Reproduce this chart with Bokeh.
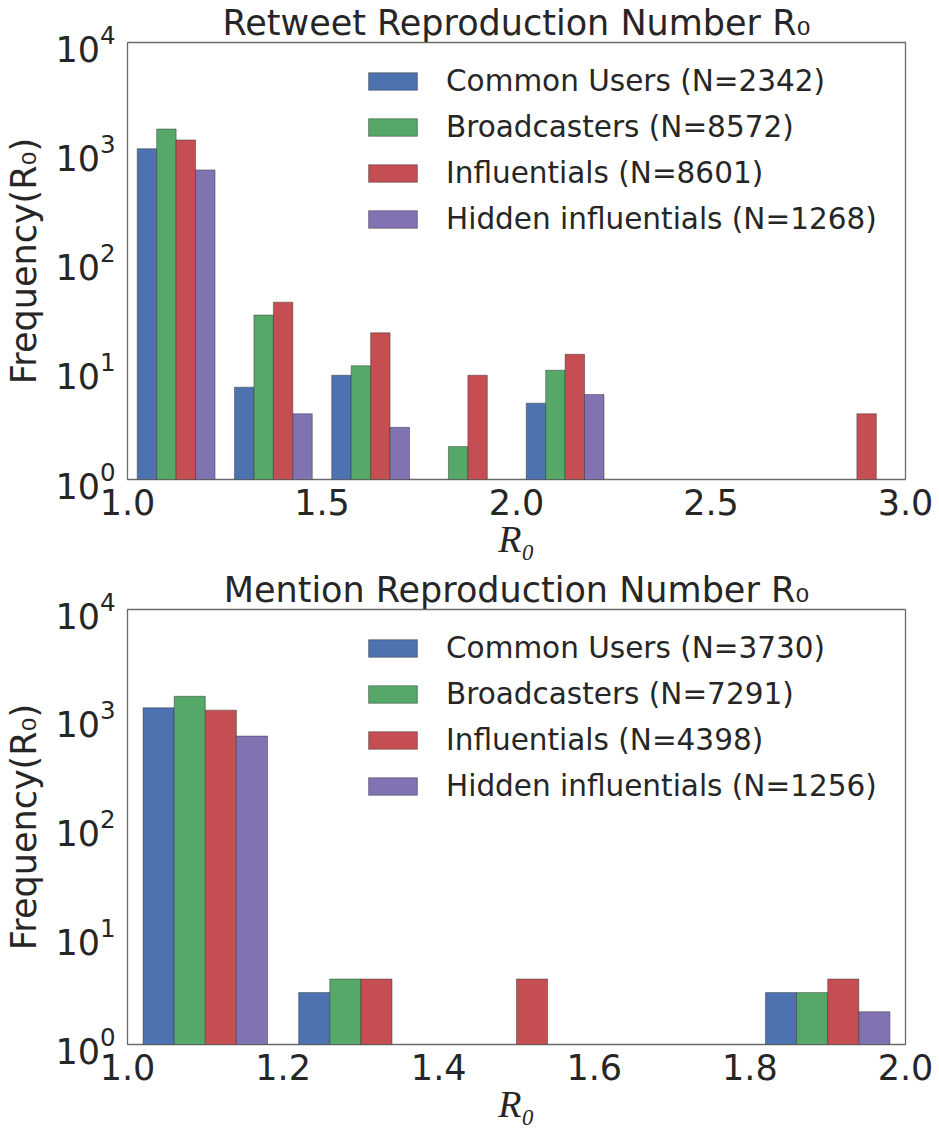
import numpy as np
from bokeh.plotting import figure
from bokeh.models import (Range1d, FixedTicker, NumeralTickFormatter, Legend,
                          LegendItem, LogTickFormatter)
from bokeh.layouts import column
from bokeh.embed import file_html
from bokeh.resources import INLINE

# ---------------- data ----------------
groups = ["Common Users", "Broadcasters", "Influentials", "Hidden influentials"]
colors = ["#4C72B0", "#55A868", "#C44E52", "#8172B2"]

rt_title = "Retweet Reproduction Number R\u2080"
rt_n = [2342, 8572, 8601, 1268]
rt_bins = [1.0, 1.25, 1.5, 1.75, 2.0, 2.25, 2.5, 2.75, 3.0]
rt_common = [1067, 7, 9, 0, 5, 0, 0, 0]
rt_broad = [1615, 32, 11, 2, 10, 0, 0, 0]
rt_infl = [1282, 42, 22, 9, 14, 0, 0, 4]
rt_hidden = [682, 4, 3, 0, 6, 0, 0, 0]
rt_xticks = [1.0, 1.5, 2.0, 2.5, 3.0]

mn_title = "Mention Reproduction Number R\u2080"
mn_n = [3730, 7291, 4398, 1256]
mn_bins = [1.0, 1.2, 1.4, 1.6, 1.8, 2.0]
mn_common = [1248, 3, 0, 0, 3]
mn_broad = [1592, 4, 0, 0, 3]
mn_infl = [1186, 4, 4, 0, 4]
mn_hidden = [686, 0, 0, 0, 2]
mn_xticks = [1.0, 1.2, 1.4, 1.6, 1.8, 2.0]

y_ticks = [1, 10, 100, 1000, 10000]

TXT = "#262626"
FONT = "DejaVu Sans"
MATHFONT = "Liberation Serif"


def make_panel(title, bins, series, ns, xticks, height, top, bottom):
    p = figure(width=939, height=height,
               x_range=Range1d(bins[0], bins[-1]),
               y_range=Range1d(y_ticks[0], y_ticks[-1]),
               y_axis_type="log", output_backend="svg", toolbar_location=None,
               min_border_left=127, min_border_right=34,
               min_border_top=top, min_border_bottom=bottom)
    p.grid.visible = False
    p.outline_line_color = "#6b6b6b"
    p.outline_line_width = 1.3
    p.background_fill_color = "white"
    p.border_fill_color = "white"

    p.title.text = title
    p.title.align = "center"
    p.title.text_font = FONT
    p.title.text_font_size = "35px"
    p.title.text_font_style = "normal"
    p.title.text_color = TXT
    p.title.standoff = 0
    p.title.offset = 0

    for ax in (p.xaxis[0], p.yaxis[0]):
        ax.axis_line_color = None
        ax.major_tick_line_color = None
        ax.minor_tick_line_color = None
        ax.major_label_text_font = FONT
        ax.major_label_text_font_size = "35px"
        ax.major_label_text_color = TXT
        ax.axis_label_text_color = TXT
        ax.axis_label_text_font_style = "normal"

    p.xaxis.ticker = FixedTicker(ticks=xticks)
    p.xaxis.formatter = NumeralTickFormatter(format="0.0")
    p.xaxis.major_label_standoff = 3
    p.xaxis.axis_label = "R\u2080"
    p.xaxis.axis_label_text_font = MATHFONT
    p.xaxis.axis_label_text_font_style = "italic"
    p.xaxis.axis_label_text_font_size = "38px"
    p.xaxis.axis_label_standoff = 0

    p.yaxis.ticker = FixedTicker(ticks=y_ticks)
    p.yaxis.formatter = LogTickFormatter()
    p.yaxis.major_label_standoff = 6
    p.yaxis.axis_label = "Frequency(R\u2080)"
    p.yaxis.axis_label_text_font = FONT
    p.yaxis.axis_label_text_font_size = "35px"
    p.yaxis.axis_label_standoff = 8

    edges = np.array(bins, dtype=float)
    w = np.diff(edges)
    bw = 0.8 * w / len(series)
    items = []
    for j, (vals, c, name, n) in enumerate(zip(series, colors, groups, ns)):
        vals = np.array(vals, dtype=float)
        left = edges[:-1] + 0.1 * w + j * bw
        right = left + bw
        m = vals > 0
        r = p.quad(left=left[m], right=right[m], bottom=y_ticks[0], top=vals[m],
                   fill_color=c, line_color="#2a2a2a", line_alpha=0.55,
                   line_width=0.8)
        items.append(LegendItem(label=f"{name} (N={n})", renderers=[r]))

    frame_h = height - max(top, 41) - bottom
    row_h, gap = 36, 10
    leg_h = len(items) * row_h + (len(items) - 1) * gap
    leg_top = frame_h - 22
    leg = Legend(items=items, location=(235, leg_top - leg_h), padding=0, margin=0,
                 glyph_width=61, glyph_height=22, label_height=row_h,
                 label_standoff=23, spacing=gap,
                 label_text_font=FONT, label_text_font_size="29.5px",
                 label_text_color=TXT,
                 background_fill_alpha=0, border_line_alpha=0)
    p.add_layout(leg, "center")
    return p


p1 = make_panel(rt_title, rt_bins, [rt_common, rt_broad, rt_infl, rt_hidden],
                rt_n, rt_xticks, 567, 39, 88)
p2 = make_panel(mn_title, mn_bins, [mn_common, mn_broad, mn_infl, mn_hidden],
                mn_n, mn_xticks, 562, 39, 85)

layout = column(p1, p2, spacing=0)
open("out.html", "w").write(file_html(layout, INLINE))
